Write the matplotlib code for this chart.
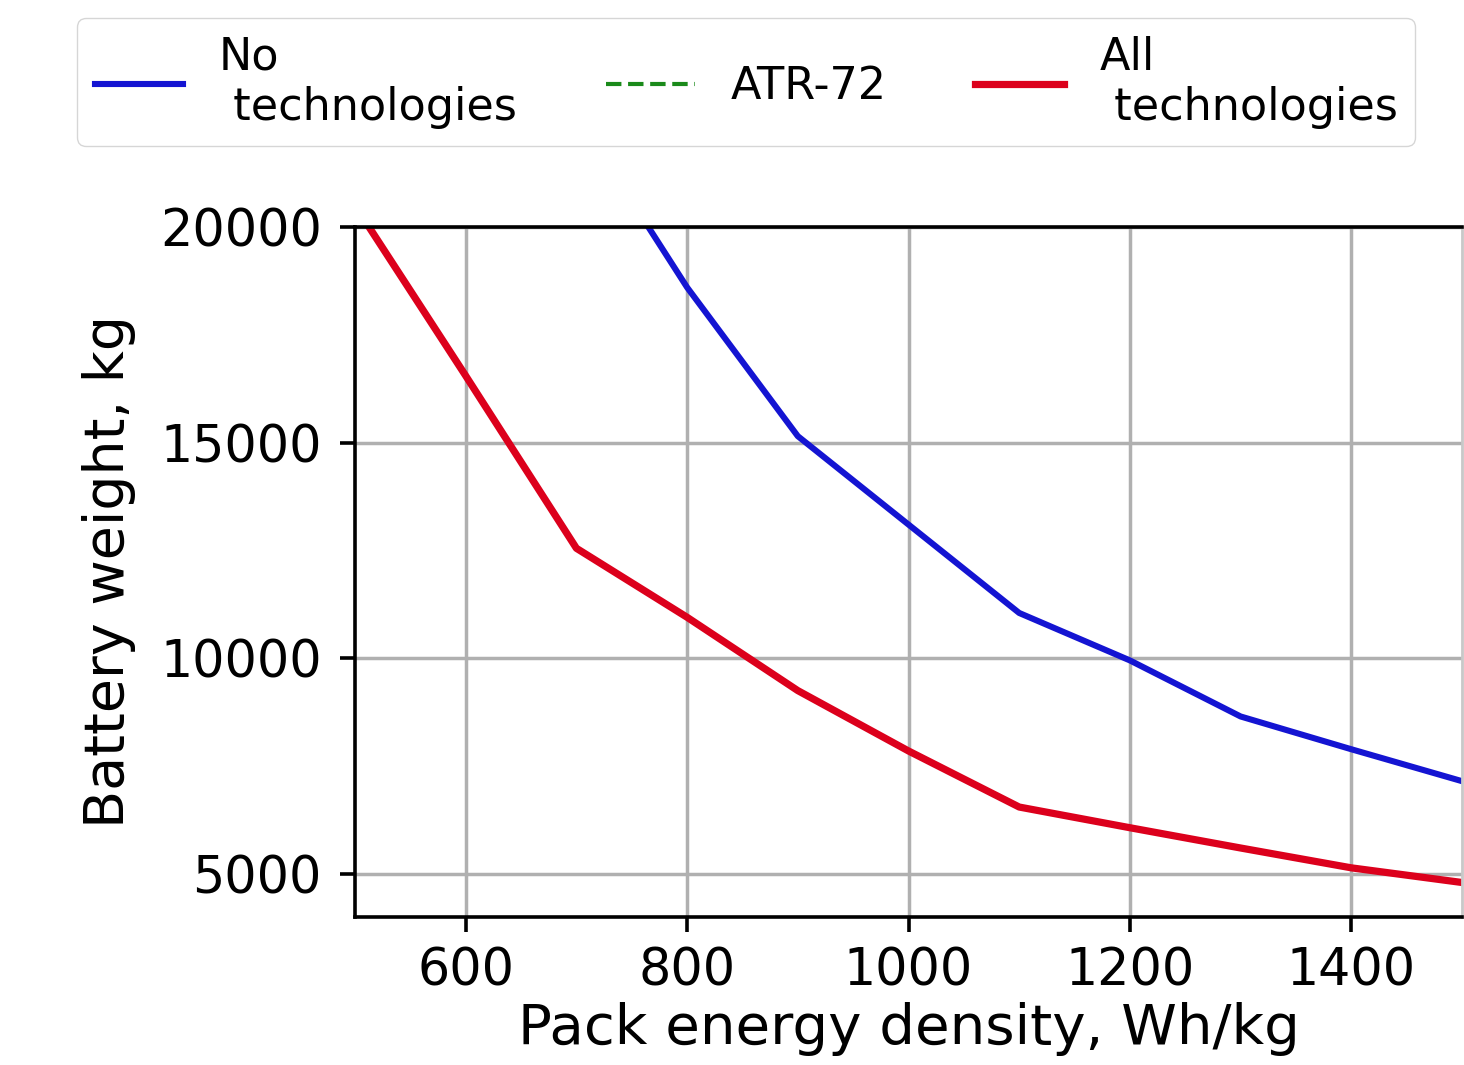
import matplotlib
matplotlib.use("Agg")
import matplotlib.pyplot as plt

# Data
energy_density = [500, 600, 700, 800, 900, 1000, 1100, 1200, 1300, 1400, 1500]
no_tech_weight = [None, None, 22600, 18600, 15150, 13100, 11050, 9950, 8650, 7890, 7150]
all_tech_weight = [20500, 16550, 12550, 10950, 9250, 7850, 6550, 6070, 5600, 5140, 4800]
atr72_weight = [23500, 23500]          # lies above the visible range
atr72_density = [500, 1500]

labels = ["No\n technologies", "ATR-72", "All\n technologies"]
x_ticks = [600, 800, 1000, 1200, 1400]
y_ticks = [5000, 10000, 15000, 20000]

plt.rcParams['font.family'] = ['DejaVu Sans']

W, H = 1464, 1065
fig = plt.figure(figsize=(W / 100, H / 100), dpi=100)
ax = fig.add_axes([355 / W, 1 - 917 / H, (1462 - 355) / W, (917 - 227) / H])

nx = [x for x, y in zip(energy_density, no_tech_weight) if y is not None]
ny = [y for y in no_tech_weight if y is not None]
l1, = ax.plot(nx, ny, color='#1414d2', lw=4.4, label=labels[0])
l2, = ax.plot(atr72_density, atr72_weight, color='#1a8a1a', lw=3, ls='--', label=labels[1])
l3, = ax.plot(energy_density, all_tech_weight, color='#dc001c', lw=5.2, label=labels[2])

ax.set_xlim(500, 1500)
ax.set_ylim(4000, 20000)
ax.set_xticks(x_ticks)
ax.set_yticks(y_ticks)
ax.grid(True, color='#b0b0b0', lw=2.5)
ax.tick_params(axis='y', labelsize=36.5, length=11, width=2.6, pad=13)
ax.tick_params(axis='x', labelsize=36.5, length=11, width=2.6, pad=10)
for s in ['left', 'bottom', 'top']:
    ax.spines[s].set_linewidth(2.6)
ax.spines['right'].set_color('#c8c8c8')
ax.spines['right'].set_linewidth(2.0)

ax.set_xlabel("Pack energy density, Wh/kg", fontsize=40.5, labelpad=4)
ax.set_ylabel("Battery weight, kg", fontsize=40, labelpad=17)

fig.legend(handles=[l1, l2, l3], loc='upper center', ncol=3, fontsize=32,
           bbox_to_anchor=(746 / W, 1 - 18 / H), borderaxespad=0,
           frameon=True)

fig.savefig("out.png", dpi=100)
